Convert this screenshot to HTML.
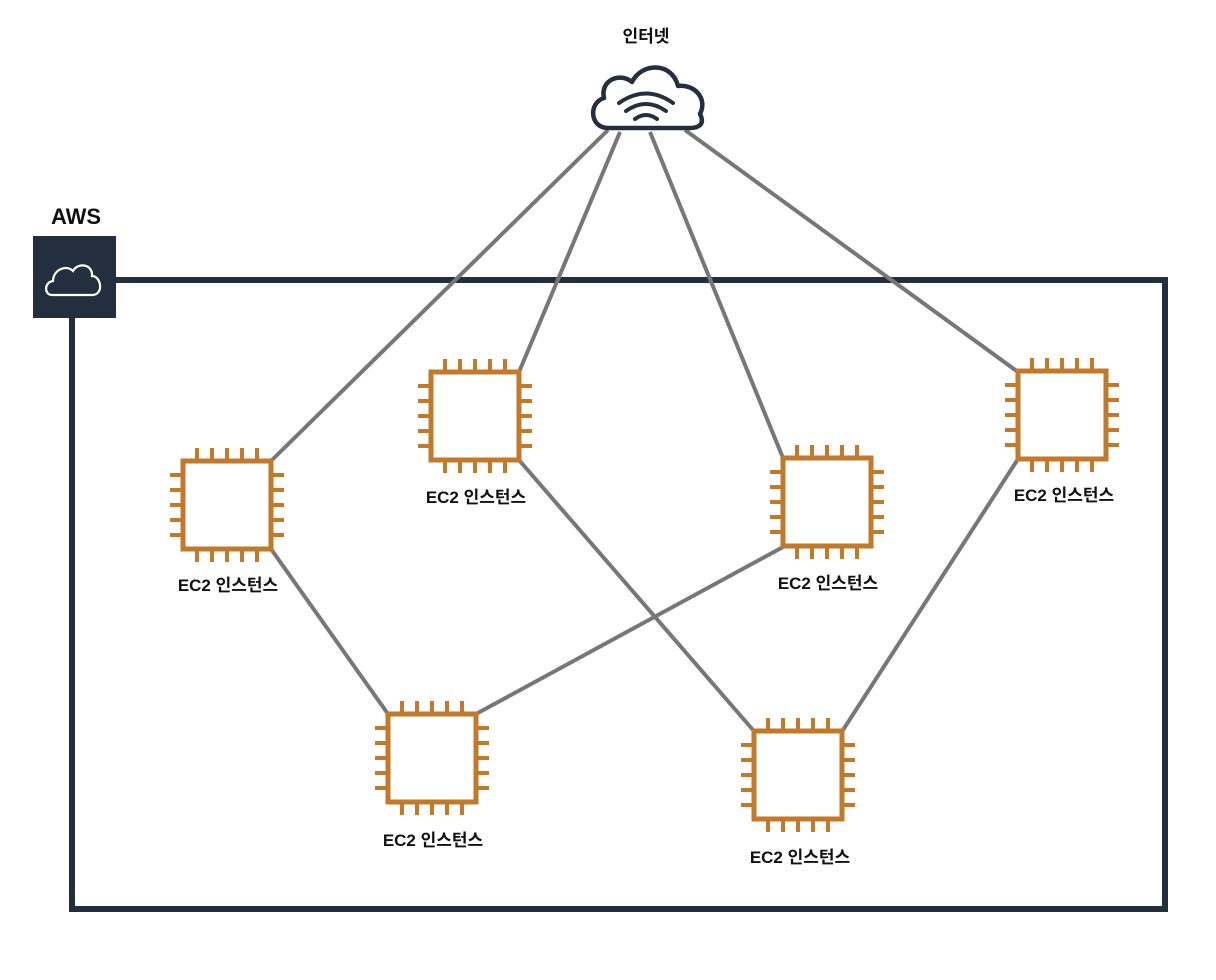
<!DOCTYPE html>
<html><head><meta charset="utf-8"><style>
html,body{margin:0;padding:0;background:#fff;}
svg{display:block}
text{font-family:"Liberation Sans","Noto Sans CJK KR",sans-serif;font-weight:bold;fill:#111;}
</style></head><body>
<svg width="1216" height="980" viewBox="0 0 1216 980" xmlns="http://www.w3.org/2000/svg">
<defs>
<g id="chip">
<rect x="-44" y="-44" width="88" height="88" fill="#fff" stroke="#c27a2a" stroke-width="5"/>
<g stroke="#c27a2a" stroke-width="4">
<line x1="-30" y1="-44" x2="-30" y2="-57"/><line x1="-15" y1="-44" x2="-15" y2="-57"/><line x1="0" y1="-44" x2="0" y2="-57"/><line x1="15" y1="-44" x2="15" y2="-57"/><line x1="30" y1="-44" x2="30" y2="-57"/>
<line x1="-30" y1="44" x2="-30" y2="57"/><line x1="-15" y1="44" x2="-15" y2="57"/><line x1="0" y1="44" x2="0" y2="57"/><line x1="15" y1="44" x2="15" y2="57"/><line x1="30" y1="44" x2="30" y2="57"/>
<line y1="-30" x1="-44" y2="-30" x2="-57"/><line y1="-15" x1="-44" y2="-15" x2="-57"/><line y1="0" x1="-44" y2="0" x2="-57"/><line y1="15" x1="-44" y2="15" x2="-57"/><line y1="30" x1="-44" y2="30" x2="-57"/>
<line y1="-30" x1="44" y2="-30" x2="57"/><line y1="-15" x1="44" y2="-15" x2="57"/><line y1="0" x1="44" y2="0" x2="57"/><line y1="15" x1="44" y2="15" x2="57"/><line y1="30" x1="44" y2="30" x2="57"/>
</g></g>
</defs>
<path d="M116 280 H1165 V909 H72 V318" fill="none" stroke="#232f3e" stroke-width="6"/>
<rect x="33" y="236" width="83" height="82" fill="#232f3e"/>
<path d="M52 295 C44 295 44 282 53 281 C53 270 66 264 73 271 C78 262 93 264 92 276 C101 276 104 294 93 295 Z" fill="none" stroke="#fff" stroke-width="2.2"/>
<text x="76" y="224" font-size="22" text-anchor="middle">AWS</text>
<g stroke="#777" stroke-width="4" fill="none">
<line x1="608" y1="130" x2="272" y2="460"/>
<line x1="620" y1="132" x2="519" y2="372"/>
<line x1="650" y1="132" x2="783" y2="458"/>
<line x1="685" y1="130" x2="1018" y2="372"/>
<line x1="271" y1="549" x2="388" y2="714"/>
<line x1="519" y1="460" x2="753" y2="730"/>
<line x1="783" y1="547" x2="476" y2="714"/>
<line x1="1018" y1="459" x2="843" y2="730"/>
</g>
<path d="M608 128 C590 128 588 103 604 98 C600 80 620 72 632 82 C642 62 672 62 678 86 C694 84 708 98 700 114 C706 126 696 128 690 128 Z" fill="#fff" stroke="#232f3e" stroke-width="4.5" stroke-linejoin="round"/>
<g fill="none" stroke="#232f3e" stroke-width="4" stroke-linecap="round">
<path d="M619 103 Q646 84 673 103"/><path d="M626 111 Q646 97 666 111"/><path d="M635 119 Q646 111 657 119"/>
</g>
<text x="646" y="42" font-size="17" text-anchor="middle">인터넷</text>
<use href="#chip" x="227" y="505"/>
<use href="#chip" x="475" y="416"/>
<use href="#chip" x="827" y="502"/>
<use href="#chip" x="1062" y="415"/>
<use href="#chip" x="432" y="758"/>
<use href="#chip" x="798" y="775"/>
<g font-size="17" text-anchor="middle">
<text x="228" y="591">EC2 인스턴스</text>
<text x="476" y="503">EC2 인스턴스</text>
<text x="828" y="589">EC2 인스턴스</text>
<text x="1064" y="501">EC2 인스턴스</text>
<text x="433" y="846">EC2 인스턴스</text>
<text x="800" y="863">EC2 인스턴스</text>
</g>
</svg>
</body></html>
